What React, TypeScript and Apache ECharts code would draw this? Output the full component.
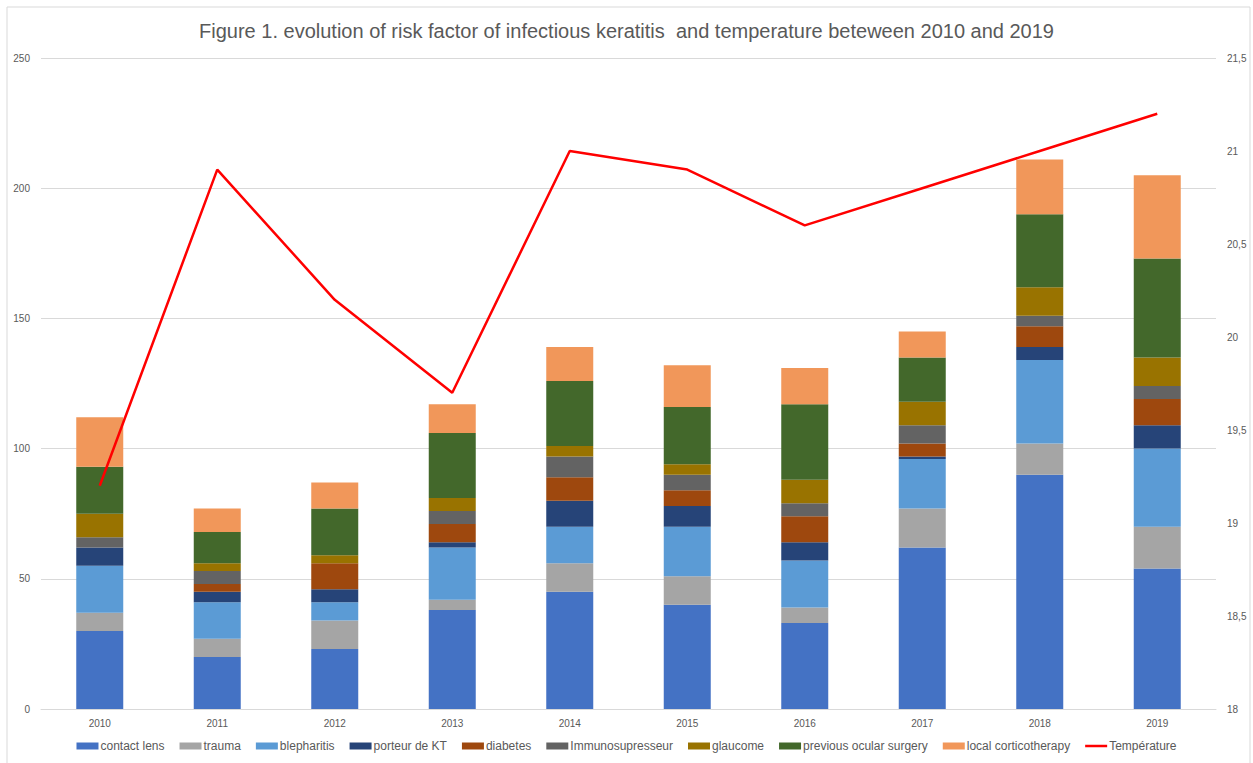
import React, { useEffect, useRef } from "react";
import * as echarts from "echarts";

const years = ["2010", "2011", "2012", "2013", "2014", "2015", "2016", "2017", "2018", "2019"];
const contactLens = [30, 20, 23, 38, 45, 40, 33, 62, 90, 54];
const trauma = [7, 7, 11, 4, 11, 11, 6, 15, 12, 16];
const blepharitis = [18, 14, 7, 20, 14, 19, 18, 19, 32, 30];
const porteurKT = [7, 4, 5, 2, 10, 8, 7, 1, 5, 9];
const diabetes = [0, 3, 10, 7, 9, 6, 10, 5, 8, 10];
const immuno = [4, 5, 0, 5, 8, 6, 5, 7, 4, 5];
const glaucome = [9, 3, 3, 5, 4, 4, 9, 9, 11, 11];
const surgery = [18, 12, 18, 25, 25, 22, 29, 17, 28, 38];
const cortico = [19, 9, 10, 11, 13, 16, 14, 10, 21, 32];
const temperature = [19.2, 20.9, 20.2, 19.7, 21.0, 20.9, 20.6, 20.8, 21.0, 21.2];

const barSeries = [
  { name: "contact lens", data: contactLens, color: "#4472C4" },
  { name: "trauma", data: trauma, color: "#A5A5A5" },
  { name: "blepharitis", data: blepharitis, color: "#5B9BD5" },
  { name: "porteur de KT", data: porteurKT, color: "#264478" },
  { name: "diabetes", data: diabetes, color: "#9E480E" },
  { name: "Immunosupresseur", data: immuno, color: "#636363" },
  { name: "glaucome", data: glaucome, color: "#997300" },
  { name: "previous ocular surgery", data: surgery, color: "#43682B" },
  { name: "local corticotherapy", data: cortico, color: "#F1975A" },
];

const FONT = "'Liberation Sans', Arial, sans-serif";

export default function App() {
  const ref = useRef<HTMLDivElement>(null);
  useEffect(() => {
    if (!ref.current) return;
    const chart = echarts.init(ref.current, undefined, { renderer: "svg" });
    const option: any = {
      animation: false,
      backgroundColor: "#ffffff",
      textStyle: { fontFamily: FONT },
      title: {
        text: "Figure 1. evolution of risk factor of infectious keratitis  and temperature beteween 2010 and 2019",
        left: "center",
        top: 16,
        textStyle: { fontFamily: FONT, fontSize: 20, fontWeight: "normal", color: "#595959" },
      },
      graphic: [
        {
          type: "rect",
          shape: { x: 7, y: 7, width: 1243, height: 770 },
          style: { fill: "none", stroke: "#d9d9d9", lineWidth: 1 },
          silent: true,
        },
      ],
      legend: {
        bottom: 6,
        left: "center",
        itemWidth: 22,
        itemHeight: 7,
        itemGap: 15,
        textStyle: { fontFamily: FONT, fontSize: 12, color: "#595959", padding: [0, 0, 0, -3] },
        data: [
          ...barSeries.map((s) => ({ name: s.name, icon: "rect" })),
          { name: "Température", icon: "path://M0,0L22,0L22,2.5L0,2.5Z" },
        ],
      },
      grid: { left: 41, right: 37, top: 58, bottom: 54, containLabel: false },
      xAxis: {
        type: "category",
        data: years,
        axisTick: { show: false },
        axisLine: { lineStyle: { color: "#d9d9d9" } },
        axisLabel: { color: "#595959", fontSize: 10, margin: 9, fontFamily: FONT },
      },
      yAxis: [
        {
          type: "value",
          min: 0,
          max: 250,
          interval: 50,
          axisLine: { show: false },
          axisTick: { show: false },
          axisLabel: { color: "#595959", fontSize: 10, margin: 11, fontFamily: FONT },
          splitLine: { lineStyle: { color: "#d9d9d9" } },
        },
        {
          type: "value",
          min: 18,
          max: 21.5,
          interval: 0.5,
          position: "right",
          axisLine: { show: false },
          axisTick: { show: false },
          splitLine: { show: false },
          axisLabel: {
            color: "#595959",
            fontSize: 10,
            margin: 11,
            fontFamily: FONT,
            formatter: (v: number) => String(v).replace(".", ","),
          },
        },
      ],
      series: [
        ...barSeries.map((s) => ({
          name: s.name,
          type: "bar",
          stack: "total",
          data: s.data,
          barWidth: "40%",
          itemStyle: { color: s.color },
        })),
        {
          name: "Température",
          type: "line",
          yAxisIndex: 1,
          data: temperature,
          symbol: "none",
          lineStyle: { color: "#FF0000", width: 2.5 },
          itemStyle: { color: "#FF0000" },
        },
      ],
    };
    chart.setOption(option);
    return () => chart.dispose();
  }, []);
  return <div ref={ref} style={{ width: 1253, height: 763, position: "absolute", left: 0, top: 0 }} />;
}
